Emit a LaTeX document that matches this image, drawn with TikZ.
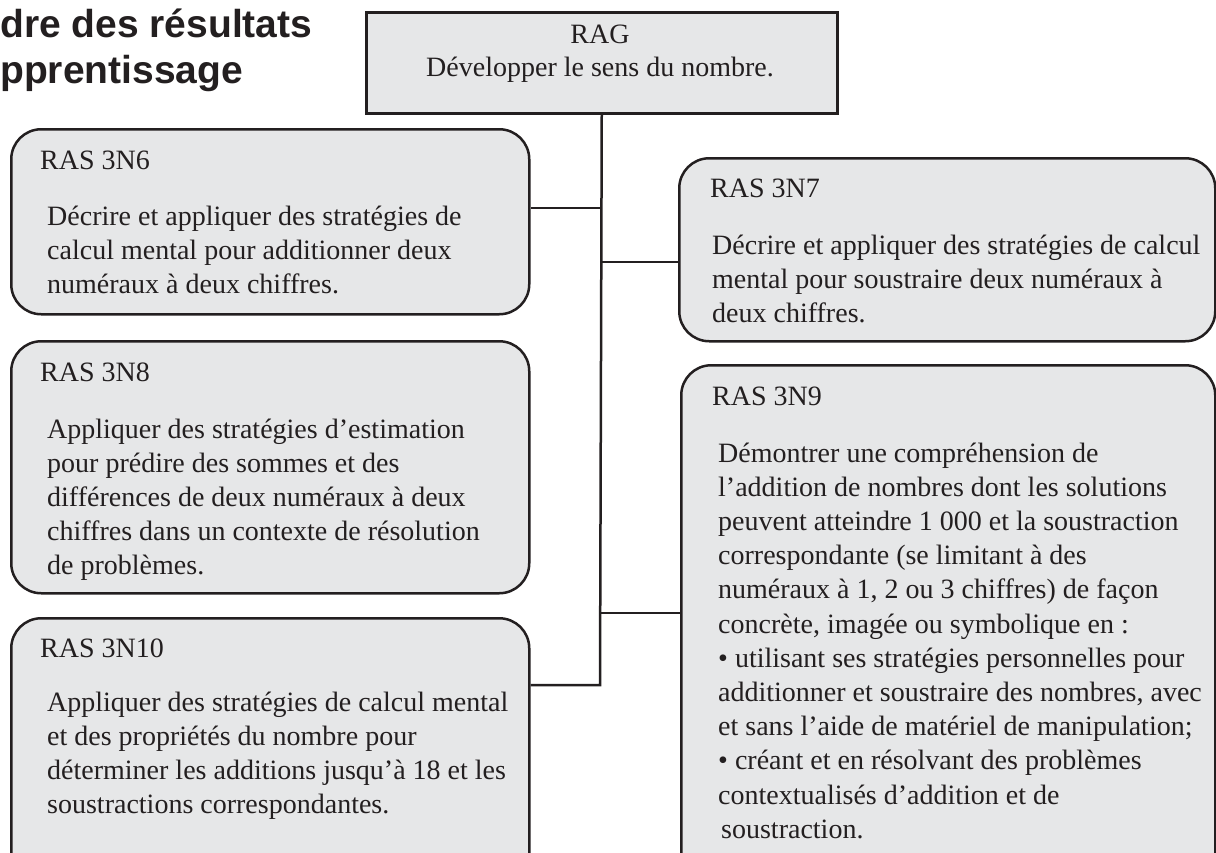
\documentclass[tikz,border=0pt]{standalone}
\usepackage{fontspec}
\setmainfont{Liberation Serif}
\newfontfamily\titlefont{Liberation Sans}
\definecolor{boxfill}{HTML}{E6E7E8}
\definecolor{ink}{HTML}{231F20}
\begin{document}
\begin{tikzpicture}[x=1pt,y=-1pt,
  boxbase/.style={draw=ink, fill=boxfill, line width=2.5pt, anchor=north west, inner sep=0pt},
  rbox/.style={boxbase, rounded corners=30pt},
  txt/.style={anchor=base west, inner sep=0pt, text=ink, font=\fontsize{28}{34.2}\selectfont},
  ttl/.style={anchor=base west, inner sep=0pt, text=ink, font=\titlefont\bfseries\fontsize{39}{46}\selectfont},
  link/.style={draw=ink, line width=2.5pt}]
\useasboundingbox (0,0) rectangle (1216,852);
\clip (0,0) rectangle (1216,852);

% title
\node[ttl] (ttl1) at (0,37) {dre des résultats};
\node[ttl] (ttl2) at (0,83) {pprentissage};

% RAG
\node[boxbase, minimum width=471pt, minimum height=101pt] (rag) at (365,11) {};
\node[txt, anchor=base] (ragh) at (600,43) {RAG};
\node[txt, anchor=base] (ragb) at (600,76) {Développer le sens du nombre.};

% boxes
\node[rbox, minimum width=518pt, minimum height=185pt] (b6) at (10,128) {};
\node[rbox, minimum width=536pt, minimum height=183pt] (b7) at (678,157) {};
\node[rbox, minimum width=518pt, minimum height=252pt] (b8) at (10,340) {};
\node[rbox, minimum width=534pt, minimum height=520pt] (b9) at (680,364) {};
\node[rbox, minimum width=518pt, minimum height=270pt] (b10) at (10,617) {};

% texts
\node[txt] (h6) at (40,169) {RAS 3N6};
\node[txt] (x6) at (47,225) {\parbox[t]{480pt}{\raggedright
Décrire et appliquer des stratégies de\\
calcul mental pour additionner deux\\
numéraux à deux chiffres.}};

\node[txt] (h7) at (710,197) {RAS 3N7};
\node[txt] (x7) at (712,254) {\parbox[t]{500pt}{\raggedright
Décrire et appliquer des stratégies de calcul\\
mental pour soustraire deux numéraux à\\
deux chiffres.}};

\node[txt] (h8) at (40,381) {RAS 3N8};
\node[txt] (x8) at (47,438) {\parbox[t]{480pt}{\raggedright
Appliquer des stratégies d’estimation\\
pour prédire des sommes et des\\
différences de deux numéraux à deux\\
chiffres dans un contexte de résolution\\
de problèmes.}};

\node[txt] (h9) at (712,405) {RAS 3N9};
\node[txt] (x9) at (718,462) {\parbox[t]{500pt}{\raggedright
Démontrer une compréhension de\\
l’addition de nombres dont les solutions\\
peuvent atteindre 1~000 et la soustraction\\
correspondante (se limitant à des\\
numéraux à 1, 2 ou 3 chiffres) de façon\\
concrète, imagée ou symbolique en :\\
• utilisant ses stratégies personnelles pour\\
additionner et soustraire des nombres, avec\\
et sans l’aide de matériel de manipulation;\\
• créant et en résolvant des problèmes\\
contextualisés d’addition et de\\
\hspace*{3pt}soustraction.}};

\node[txt] (h10) at (40,657) {RAS 3N10};
\node[txt] (x10) at (47,711) {\parbox[t]{480pt}{\raggedright
Appliquer des stratégies de calcul mental\\
et des propriétés du nombre pour\\
déterminer les additions jusqu’à 18 et les\\
soustractions correspondantes.}};

% connectors
\coordinate (j6) at (600,208);
\coordinate (j7) at (600,262);
\coordinate (j9) at (600,613);
\coordinate (j10) at (600,685);
\draw[link] (rag.south) -- (j10) -- (j10 -| b10.east);
\draw[link] (j6) -- (j6 -| b6.east);
\draw[link] (j7) -- (j7 -| b7.west);
\draw[link] (j9) -- (j9 -| b9.west);
\end{tikzpicture}
\end{document}
